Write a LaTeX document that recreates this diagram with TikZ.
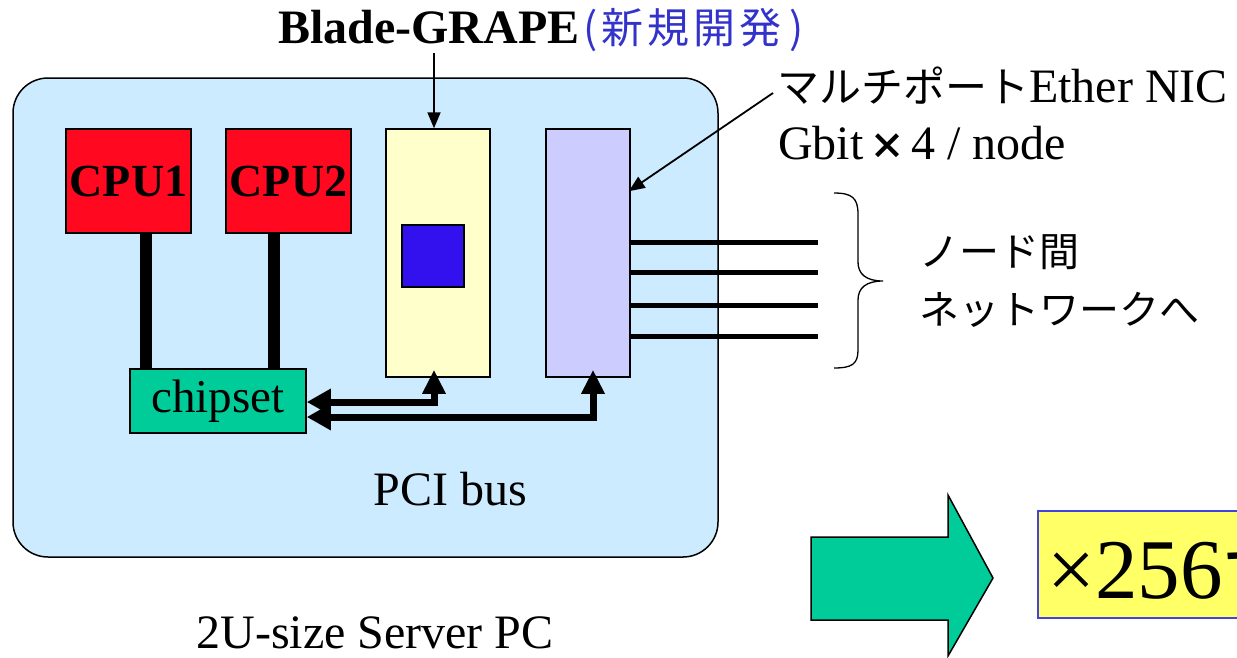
\documentclass[tikz,border=0pt]{standalone}
\usepackage{fontspec}
\setmainfont{Liberation Serif}
\newfontfamily\jp{Noto Sans CJK JP}
\usetikzlibrary{arrows.meta}
\definecolor{serverblue}{HTML}{CCEBFF}
\definecolor{cpured}{HTML}{FF0820}
\definecolor{chipgreen}{HTML}{00CC99}
\definecolor{grapeyellow}{HTML}{FFFFCC}
\definecolor{niclav}{HTML}{CCCCFF}
\definecolor{chipblue}{HTML}{3311EE}
\definecolor{jpblue}{HTML}{3333CC}
\definecolor{boxyellow}{HTML}{FFFF66}
\definecolor{boxborder}{HTML}{4444DD}
\tikzset{
  txt/.style={inner sep=0pt, font=\fontsize{48}{52}\selectfont},
  card/.style={draw=black, line width=1.5pt, inner sep=0pt},
  cpubox/.style={card, fill=cpured, minimum width=125pt, minimum height=104pt, font=\fontsize{46}{50}\selectfont\bfseries},
  slotcard/.style={card, minimum height=248pt},
  busline/.style={line width=12pt},
  busarr/.style={line width=7pt, line join=miter, {Triangle[length=24pt,width=25pt]}-{Triangle[length=24pt,width=22pt]}},
  thinarr/.style={line width=1.8pt, -{Triangle[length=16pt,width=13pt]}},
  ether/.style={line width=5pt},
}
\begin{document}
\begin{tikzpicture}[x=1pt,y=-1pt]
\useasboundingbox (0,0) rectangle (1237,657);
% server chassis
\node[draw=black, line width=1.5pt, fill=serverblue, rounded corners=35pt,
      minimum width=705pt, minimum height=479pt, inner sep=0pt] (server) at (365.5,317.5) {};
% components
\node[cpubox] (cpu1) at (128.5,181) {CPU1};
\node[cpubox] (cpu2) at (288.5,181) {CPU2};
\node[slotcard, fill=grapeyellow, minimum width=104pt] (grape) at (438,253) {};
\node[card, fill=chipblue, minimum width=62pt, minimum height=62pt] (pe) at (433,256) {};
\node[slotcard, fill=niclav, minimum width=84pt] (nic) at (588,253) {};
\node[card, fill=chipgreen, minimum width=176pt, minimum height=64pt, font=\fontsize{47}{52}\selectfont] (chip) at (218,401) {chipset};
% CPU links
\draw[busline] ([xshift=17.5pt]cpu1.south) -- ([xshift=17.5pt]cpu1.south |- chip.north);
\draw[busline] ([xshift=-14.5pt]cpu2.south) -- ([xshift=-14.5pt]cpu2.south |- chip.north);
% PCI bus arrows
\draw[busarr] ([yshift=-1pt]chip.east) -| ([xshift=-4pt,yshift=8pt]grape.south);
\draw[busarr] ([yshift=-16pt]chip.east) -| ([xshift=5pt,yshift=8pt]nic.south);
% Ethernet ports
\coordinate (e1) at (818,242);
\coordinate (e2) at (818,272);
\coordinate (e3) at (818,305);
\coordinate (e4) at (818,336);
\foreach \e in {e1,e2,e3,e4} \draw[ether] (nic.east |- \e) -- (\e);
% brace
\draw[line width=1.3pt] (834,193) .. controls (852,193) and (858,198) .. (858,214) -- (858,262)
  .. controls (858,274) and (866,281) .. (883,281)
  .. controls (866,281) and (858,288) .. (858,300) -- (858,350)
  .. controls (858,364) and (852,368) .. (834,368);
\node[txt, anchor=west, font=\jp\fontsize{40}{44}\selectfont] (net1) at (919,252) {ノード間};
\node[txt, anchor=west, font=\jp\fontsize{40}{44}\selectfont] (net2) at (919,310) {ネットワークへ};
% labels
\node[txt, anchor=base west] (title) at (278,43) {{\bfseries Blade-GRAPE}\hspace{4pt}{\normalfont\jp\fontsize{42}{44}\selectfont\color{jpblue}(\hspace{4pt}新\hspace{4pt}規\hspace{4pt}開\hspace{4pt}発\hspace{8pt})}};
\coordinate (gx) at (434,53);
\draw[thinarr] (gx) -- (gx |- grape.north);
\node[txt, anchor=base west] (niclab) at (777,102) {{\jp\fontsize{42}{44}\selectfont マルチポート}Ether NIC};
\node[txt, anchor=base west] (gbit) at (778,159) {Gbit\hspace{6pt}{\jp\bfseries\fontsize{36}{40}\selectfont ×}\hspace{6pt}4 / node};
\coordinate (nicl) at (773,93);
\draw[thinarr] (nicl) -- ([yshift=-63pt,xshift=-2pt]nic.north east);
\node[txt, anchor=base] (pci) at (450,505) {PCI bus};
\node[txt, anchor=base] (srv) at (375,648) {2U-size Server PC};
% big arrow
\draw[line width=1.5pt, fill=chipgreen, line join=miter]
  (811,537) -- (948,537) -- (948,495) -- (993,578) -- (948,656) -- (948,620) -- (811,620) -- cycle;
\node[draw=boxborder, line width=1.5pt, fill=boxyellow, minimum width=210pt, minimum height=107pt,
      anchor=north west, inner sep=0pt] (mult) at (1037,510) {};
\node[inner sep=0pt, anchor=base west, font=\fontsize{85}{90}\selectfont] (multtxt) at (1047,598) {×256{\jp 台}};
\end{tikzpicture}
\end{document}
